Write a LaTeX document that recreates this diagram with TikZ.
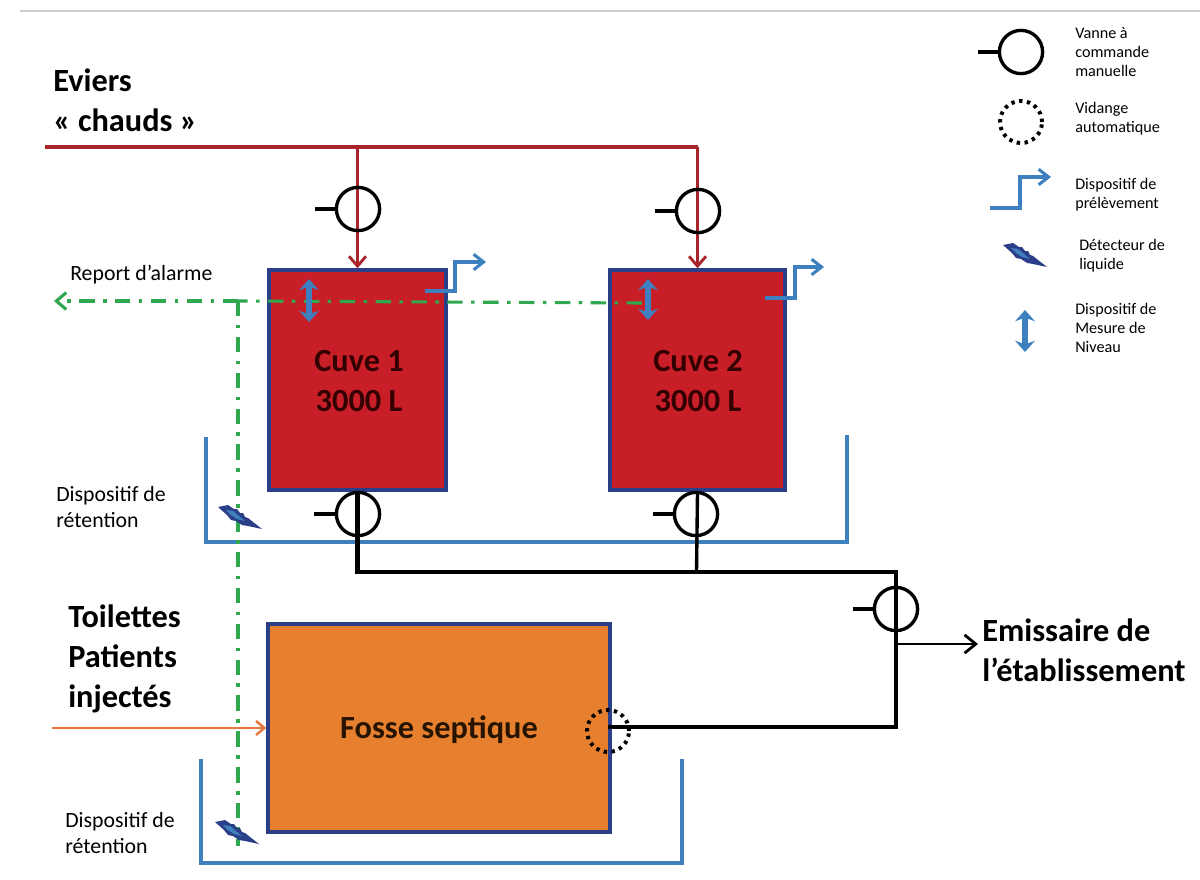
\documentclass[tikz,border=0pt]{standalone}
\usepackage{fontspec}
\setmainfont{Carlito}
\usepackage{xcolor}
\usetikzlibrary{arrows.meta}
\definecolor{rougecuve}{HTML}{C81E28}
\definecolor{rougeligne}{HTML}{A8242B}
\definecolor{bleubord}{HTML}{2B3F88}
\definecolor{bleuret}{HTML}{3F80BE}
\definecolor{bleupre}{HTML}{3D7FBF}
\definecolor{orangefosse}{HTML}{E6802F}
\definecolor{orangeligne}{HTML}{E8743A}
\definecolor{vertalarme}{HTML}{2FA84F}
\tikzset{
    cuve/.style={draw=bleubord, line width=2.4pt, fill=#1, inner sep=0pt},
    vanne/.style={draw=black, circle, line width=2.4pt, minimum size=1.08cm, inner sep=0pt},
    vidange/.style={draw=black, circle, line width=2.8pt, dash pattern=on 2.4pt off 3.2pt, minimum size=1.05cm, inner sep=0pt},
    poignee/.style={line width=3pt, draw=black},
    tuyau/.style={line width=3.4pt, draw=black},
    retention/.style={line width=2.6pt, draw=bleuret},
    alarme/.style={line width=2.2pt, draw=vertalarme, dash pattern=on 11pt off 6pt on 2.5pt off 6pt},
    prelev/.style={line width=2.2pt, draw=bleupre, -{Straight Barb[length=7pt,width=11pt]}},
    niveau/.style={line width=4.2pt, draw=bleupre, {Stealth[length=8pt,width=14pt]}-{Stealth[length=8pt,width=14pt]}},
    legende/.style={align=left, anchor=west, font=\fontsize{11.5pt}{13.5pt}\selectfont, inner sep=0pt},
    etiquette/.style={align=left, anchor=west, font=\fontsize{15.5pt}{19pt}\selectfont, inner sep=0pt},
    titre/.style={align=left, anchor=west, font=\fontsize{23pt}{28.5pt}\selectfont\bfseries, inner sep=0pt},
    detecteur/.pic={
        \fill[bleubord] (-22,-11) -- (-12,-13) -- (-6,-9) -- (-3,-9) -- (0,-5) -- (3,-5) -- (5,-1) -- (8,0) -- (22,11) -- (8,8) -- (2,7) -- (-4,3) -- (-9,2) -- (-13,-3) -- cycle;
        \fill[bleuret] (-14,-8) -- (-7,-7) -- (-1,-2) -- (5,3) -- (-3,1) -- (-9,-3) -- cycle;
    }
}
\begin{document}
\begin{tikzpicture}[x=0.025cm, y=-0.025cm]
    \useasboundingbox (0,0) rectangle (1200,879);
    \fill[white] (0,0) rectangle (1200,879);
    \draw[black!20, line width=1pt] (20,11) -- (1200,11);

    % cuves et fosse
    \node[cuve=rougecuve, minimum width=4.42cm, minimum height=5.5cm] (cuve1) at (357.5,380) {};
    \node[cuve=rougecuve, minimum width=4.38cm, minimum height=5.5cm] (cuve2) at (697.5,380) {};
    \node[cuve=orangefosse, minimum width=8.55cm, minimum height=5.2cm] (fosse) at (439,728) {};
    \node[font=\fontsize{23pt}{28.5pt}\selectfont\bfseries, align=center, text=black!80!red] (txt1) at (359,381) {Cuve 1\\3000 L};
    \node[font=\fontsize{23pt}{28.5pt}\selectfont\bfseries, align=center, text=black!80!red] (txt2) at (698,381) {Cuve 2\\3000 L};
    \node[font=\fontsize{23pt}{24pt}\selectfont\bfseries, text=black!85!orange] (txt3) at (439,730) {Fosse septique};

    % dispositifs de retention
    \coordinate (r1a) at (206,437);
    \coordinate (r1b) at (206,542);
    \coordinate (r1c) at (847,542);
    \coordinate (r1d) at (847,435);
    \draw[retention] (r1a) -- (r1b) -- (r1c) -- (r1d);
    \coordinate (r2a) at (201,759);
    \coordinate (r2b) at (201,863);
    \coordinate (r2c) at (682,863);
    \coordinate (r2d) at (682,759);
    \draw[retention] (r2a) -- (r2b) -- (r2c) -- (r2d);

    % arrivee eviers
    \coordinate (ev0) at (45,147);
    \coordinate (ev1) at (357.5,147);
    \coordinate (ev2) at (697.5,147);
    \draw[rougeligne, line width=2.2pt] (ev0) -- (ev2);
    \draw[rougeligne, line width=2pt, -{Straight Barb[length=7pt,width=12pt]}] (ev1) -- (cuve1.north);
    \draw[rougeligne, line width=2pt, -{Straight Barb[length=7pt,width=12pt]}] (ev2) -- (cuve2.north);

    % vannes
    \node[vanne] (v1) at (358,209) {};
    \node[vanne] (v2) at (698,211) {};
    \node[vanne] (v3) at (358,514) {};
    \node[vanne] (v4) at (696,514) {};
    \node[vanne] (v5) at (896,609) {};
    \draw[poignee] (v1.west) -- ++(-20,0);
    \draw[poignee] (v2.west) -- ++(-20,0);
    \draw[poignee] (v3.west) -- ++(-21,0);
    \draw[poignee] (v4.west) -- ++(-20,0);
    \draw[poignee] (v5.west) -- ++(-20,0);

    % sorties
    \coordinate (s1) at (357.5,572);
    \coordinate (s2) at (696.5,572);
    \coordinate (s3) at (896,572);
    \coordinate (s4) at (896,727);
    \coordinate (s5) at (896,644);
    \coordinate (s6) at (608,727);
    \draw[tuyau] (cuve1.south) -- (s1) -- (s3) -- (s4) -- (s6);
    \draw[line width=2.4pt] (cuve2.south) -- (s2);
    \node[vidange] (vid) at (608,731) {};
    \node[titre] (emi) at (982,650) {Emissaire de\\l'établissement};
    \draw[line width=2pt, -{Straight Barb[length=8pt,width=13pt]}] (s5) -- (978,644);

    % toilettes
    \coordinate (t0) at (52,728);
    \draw[orangeligne, line width=1.7pt, -{Straight Barb[length=6pt,width=10pt]}] (t0) -- (fosse.west);

    % alarme
    \coordinate (al0) at (54,301);
    \coordinate (al1) at (238,301);
    \coordinate (al2) at (238,846);
    \coordinate (al3) at (642,303);
    \draw[alarme] (al3) -- (al1);
    \draw[alarme] (al1) -- (al2);
    \draw[line width=2.2pt, draw=vertalarme, dash pattern=on 11pt off 6pt on 2.5pt off 6pt, -{Straight Barb[length=7pt,width=12pt]}] (al1) -- (al0);

    % prelevement et niveau
    \coordinate (p1) at (425,291);
    \coordinate (p2) at (455,291);
    \coordinate (p3) at (455,262);
    \coordinate (p4) at (486,262);
    \draw[prelev] (p1) -- (p2) -- (p3) -- (p4);
    \coordinate (p5) at (765,298);
    \coordinate (p6) at (795,298);
    \coordinate (p7) at (795,267);
    \coordinate (p8) at (824,267);
    \draw[prelev] (p5) -- (p6) -- (p7) -- (p8);
    \coordinate (n1) at (309,279);
    \coordinate (n2) at (309,322);
    \draw[niveau] (n1) -- (n2);
    \coordinate (n3) at (648,279);
    \coordinate (n4) at (648,320);
    \draw[niveau] (n3) -- (n4);
    \pic at (240,518) {detecteur};
    \pic at (237,833) {detecteur};

    % textes
    \node[titre] (eviers) at (53,100) {Eviers\\« chauds »};
    \node[titre] (toil) at (68,659) {Toilettes\\Patients\\injectés};
    \node[etiquette] (rep) at (70,275) {Report d'alarme};
    \node[etiquette] (ret1) at (56,507) {Dispositif de\\rétention};
    \node[etiquette] (ret2) at (65,833) {Dispositif de\\rétention};

    % legende
    \node[vanne] (lv) at (1021,52) {};
    \draw[poignee] (lv.west) -- ++(-20,0);
    \node[legende] (lt1) at (1075,52) {Vanne à\\commande\\manuelle};
    \node[vidange] (lvid) at (1021,122) {};
    \node[legende] (lt2) at (1075,119) {Vidange\\automatique};
    \coordinate (lp1) at (990,208);
    \coordinate (lp2) at (1020,208);
    \coordinate (lp3) at (1020,177);
    \coordinate (lp4) at (1051,177);
    \draw[prelev] (lp1) -- (lp2) -- (lp3) -- (lp4);
    \node[legende] (lt3) at (1075,195) {Dispositif de\\prélèvement};
    \pic at (1025,256) {detecteur};
    \node[legende] (lt4) at (1079,256) {Détecteur de\\liquide};
    \coordinate (ln1) at (1025,310);
    \coordinate (ln2) at (1025,352);
    \draw[niveau] (ln1) -- (ln2);
    \node[legende] (lt5) at (1075,328) {Dispositif de\\Mesure de\\Niveau};
\end{tikzpicture}
\end{document}
